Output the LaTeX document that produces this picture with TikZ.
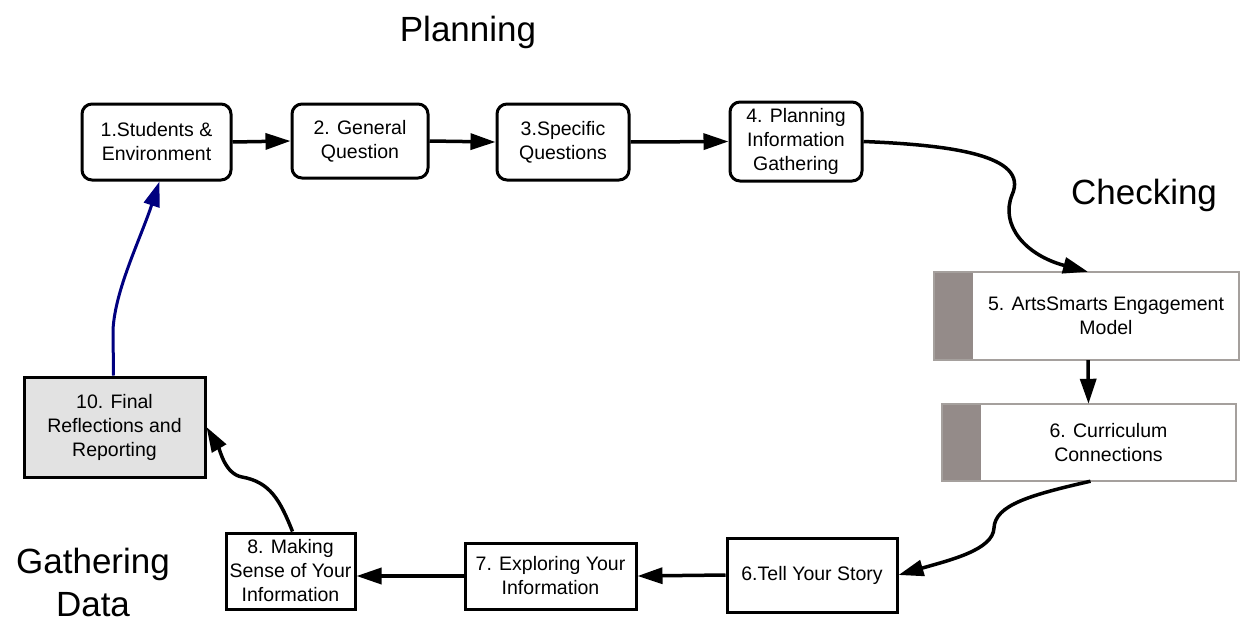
\documentclass[tikz,border=0pt]{standalone}
\usepackage{fontspec}
\setmainfont{Liberation Sans}
\usetikzlibrary{arrows.meta}
\definecolor{tabgray}{RGB}{148,139,137}
\definecolor{edgegray}{RGB}{165,160,157}
\definecolor{finalfill}{RGB}{226,226,226}
\definecolor{loopblue}{RGB}{0,0,128}
\tikzset{
  stage/.style={draw, line width=3pt, rounded corners=10pt, align=center, inner sep=0pt, font=\fontsize{19.5}{24}\selectfont},
  plainbox/.style={draw, line width=3pt, align=center, inner sep=0pt, font=\fontsize{19.5}{24}\selectfont},
  checkbox/.style={align=center, inner sep=0pt, font=\fontsize{19.5}{24}\selectfont},
  phase/.style={align=center, font=\fontsize{35}{43}\selectfont},
  flow/.style={line width=3.5pt, -{Triangle[length=25pt,width=16pt]}}
}
\begin{document}
\begin{tikzpicture}[x=1pt,y=-1pt]
    \useasboundingbox (0,0) rectangle (1241,621);

    \node[phase] (planning) at (468,32) {Planning};
    \node[phase] (checking) at (1144,195) {Checking};
    \node[phase] (gathering) at (93,582) {Gathering\\Data};

    \node[stage, minimum width=149pt, minimum height=76pt] (p1) at (156.5,142) {1.Students \&\\Environment};
    \node[stage, minimum width=136pt, minimum height=74pt] (p2) at (360,141) {2. General\\Question};
    \node[stage, minimum width=132pt, minimum height=76pt] (p3) at (563,142) {3.Specific\\Questions};
    \node[stage, minimum width=132pt, minimum height=79pt] (p4) at (796,141.5) {4. Planning\\Information\\Gathering};

    \node[checkbox, minimum width=266pt, minimum height=88pt] (p5) at (1106,316) {5. ArtsSmarts Engagement\\Model};
    \fill[tabgray] ([xshift=-39pt]p5.north west) rectangle (p5.south west);
    \draw[edgegray, line width=2.5pt] ([xshift=-39pt]p5.north west) rectangle (p5.south east);

    \node[checkbox, minimum width=255pt, minimum height=77pt] (p6) at (1108.5,442.5) {6. Curriculum\\Connections};
    \fill[tabgray] ([xshift=-39pt]p6.north west) rectangle (p6.south west);
    \draw[edgegray, line width=2.5pt] ([xshift=-39pt]p6.north west) rectangle (p6.south east);

    \node[plainbox, minimum width=170pt, minimum height=74pt] (story) at (812,575) {6.Tell Your Story};
    \node[plainbox, minimum width=171pt, minimum height=66pt] (explore) at (550.5,576) {7. Exploring Your\\Information};
    \node[plainbox, minimum width=129pt, minimum height=76pt] (sense) at (290.5,571) {8. Making\\Sense of Your\\Information};
    \node[plainbox, fill=finalfill, minimum width=181pt, minimum height=100pt] (final) at (114.5,427) {10. Final\\Reflections and\\Reporting};

    \draw[flow] (p1.east) -- (p2.west);
    \draw[flow] (p2.east) -- (p3.west);
    \draw[flow] (p3.east) -- (p4.west);
    \draw[flow] (p4.east) .. controls (950,145) and (1030,155) .. (1012,195)
        .. controls (1000,225) and (1025,255) .. ([xshift=-18pt]p5.north);
    \draw[flow] ([xshift=-18pt]p5.south) -- ([xshift=-20pt]p6.north);
    \draw[flow] ([xshift=-18pt]p6.south) .. controls (1030,495) and (995,505) .. (994,528)
        .. controls (993,550) and (950,560) .. (story.east);
    \draw[flow] (story.west) -- (explore.east);
    \draw[flow] (explore.west) -- (explore.west -| sense.east);
    \draw[flow] ([xshift=2pt]sense.north) .. controls (280,500) and (270,482) .. (242,477)
        .. controls (225,474) and (220,450) .. (final.east);
    \draw[flow, loopblue, line width=3pt] ([xshift=-1pt]final.north) -- (113,330)
        .. controls (115,290) and (140,240) .. ([xshift=3pt]p1.south);
\end{tikzpicture}
\end{document}
